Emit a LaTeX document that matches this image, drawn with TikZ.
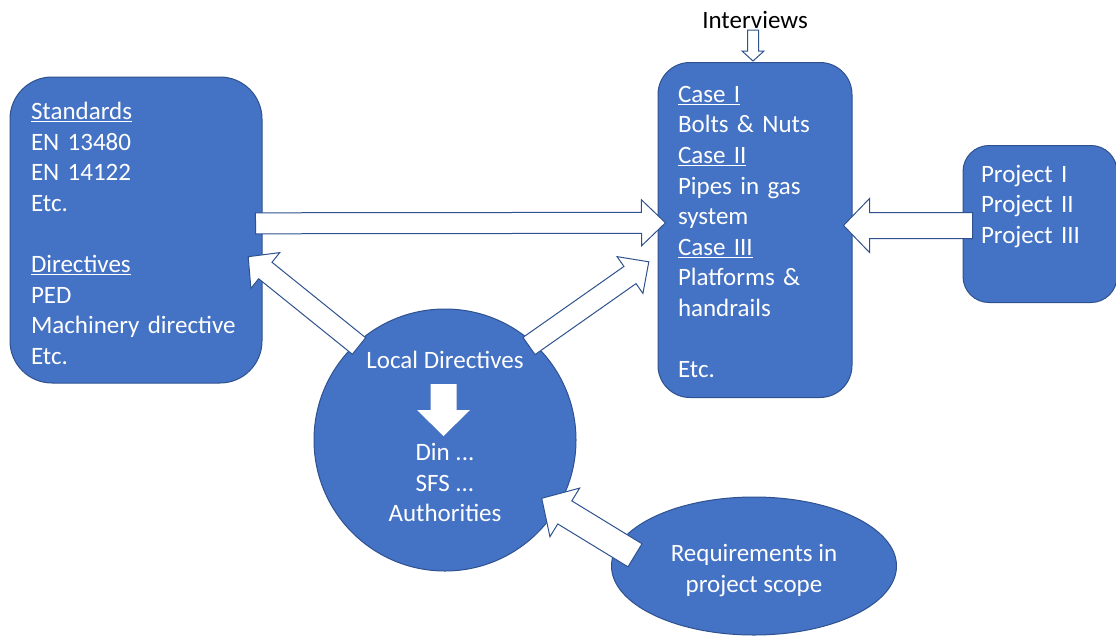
\documentclass[tikz,border=0pt]{standalone}
\usepackage{fontspec}
\setmainfont{Carlito}
\usepackage{xcolor}
\usepackage{tikz}
\usetikzlibrary{positioning}
\usetikzlibrary{calc}
\usetikzlibrary{shapes.geometric}

\definecolor{boxblue}{HTML}{4472C4}
\definecolor{edgeblue}{HTML}{2F528F}

% block arrow: [style]{tail}{tip}{half shaft}{half head}{head length}
\newcommand{\blockarr}[6][hollowarr]{%
  \draw[#1] let \p1=(#2), \p2=(#3), \n1={atan2(\y2-\y1,\x2-\x1)}, \n2={veclen(\x2-\x1,\y2-\y1)} in
  ($(\p1)+(\n1+90:#4pt)$) -- ($(\p1)+(\n1:\n2-#6pt)+(\n1+90:#4pt)$)
  -- ($(\p1)+(\n1:\n2-#6pt)+(\n1+90:#5pt)$) -- (\p2)
  -- ($(\p1)+(\n1:\n2-#6pt)+(\n1-90:#5pt)$) -- ($(\p1)+(\n1:\n2-#6pt)+(\n1-90:#4pt)$)
  -- ($(\p1)+(\n1-90:#4pt)$) -- cycle;}

\begin{document}
\begin{tikzpicture}[x=1pt, y=-1pt, on grid, line width=1pt, font=\fontsize{25}{30.6}\selectfont,
  box/.style={rectangle, fill=boxblue, draw=edgeblue, text=white, align=left, inner ysep=0pt},
  blob/.style={fill=boxblue, draw=edgeblue, text=white, align=center, inner sep=0pt},
  hollowarr/.style={fill=white, draw=edgeblue, line join=miter},
  solidarr/.style={fill=white, draw=none}]
		\useasboundingbox (0,0) rectangle (1116,635);
		\node[box, rounded corners=42pt, minimum width=252pt, minimum height=306pt, text width=210pt, inner xsep=21pt] (std) at (136,230) {\rule{0pt}{24.5pt}\underline{Standards}\\EN 13480\\EN 14122\\Etc.\\[30.6pt]\underline{Directives}\\PED\\Machinery directive\\Etc.};
		\node[box, rounded corners=32pt, minimum width=194pt, minimum height=335pt, text width=154pt, inner xsep=20pt] (cases) [right = 619pt of std] {\rule{0pt}{20pt}\underline{Case I}\\Bolts \& Nuts\\\underline{Case II}\\Pipes in gas\\system\\\underline{Case III}\\Platforms \&\\handrails\\[30.6pt]Etc.};
		\node[box, rounded corners=26pt, minimum width=154pt, minimum height=157pt, text width=118pt, inner xsep=18pt] (proj) [above right = 6pt and 285pt of cases] {Project I\\Project II\\Project III\\[9pt]\mbox{}};
		\node[blob, circle, minimum size=262pt] (local) [below right = 210pt and 309pt of std] {Local Directives\\[61.4pt]Din ...\\SFS ...\\Authorities\rule[-7pt]{0pt}{7pt}};
		\node[blob, ellipse, minimum width=285pt, minimum height=138pt] (req) [below right = 126pt and 309pt of local] {\rule{0pt}{26pt}Requirements in\\project scope};
		\node (intv) [above = 210.5pt of cases] {Interviews};
		% arrow ends
		\coordinate (stdout) at ($(std.east)+(-7,-6.7)$);
		\coordinate (casesin) at ($(cases.west)+(8,-7.2)$);
		\coordinate (projout) at ($(proj.west)+(10,1.5)$);
		\coordinate (projin) at ($(cases.east)+(-9,-4.5)$);
		\coordinate (localup) at ($(local.center)+(-86,-94)$);
		\coordinate (stdin) at ($(std.east)+(-14.3,26.7)$);
		\coordinate (localout) at ($(local.center)+(84,-94)$);
		\coordinate (casesin2) at ($(cases.west)+(-8.7,31.8)$);
		\coordinate (reqout) at ($(req.center)+(-119,-10.7)$);
		\coordinate (localin) at ($(local.center)+(96.7,58.3)$);
		\coordinate (intvout) at ($(cases.north)+(-2,-32)$);
		\coordinate (casestop) at ($(cases.north)+(-2,-1)$);
		\coordinate (ldbelow) at ($(local.center)+(-1.5,-56)$);
		\coordinate (dinabove) at ($(local.center)+(-1.5,-4)$);
		\blockarr{stdout}{casesin}{10.5}{23}{24}
		\blockarr{projout}{projin}{13}{27}{26}
		\blockarr{localup}{stdin}{10.6}{23}{22}
		\blockarr{localout}{casesin2}{10.5}{22.5}{23}
		\blockarr{reqout}{localin}{13.5}{28.5}{27}
		\blockarr{intvout}{casestop}{5.5}{11}{10}
		\blockarr[solidarr]{ldbelow}{dinabove}{13}{26.5}{26}
\end{tikzpicture}
\end{document}
